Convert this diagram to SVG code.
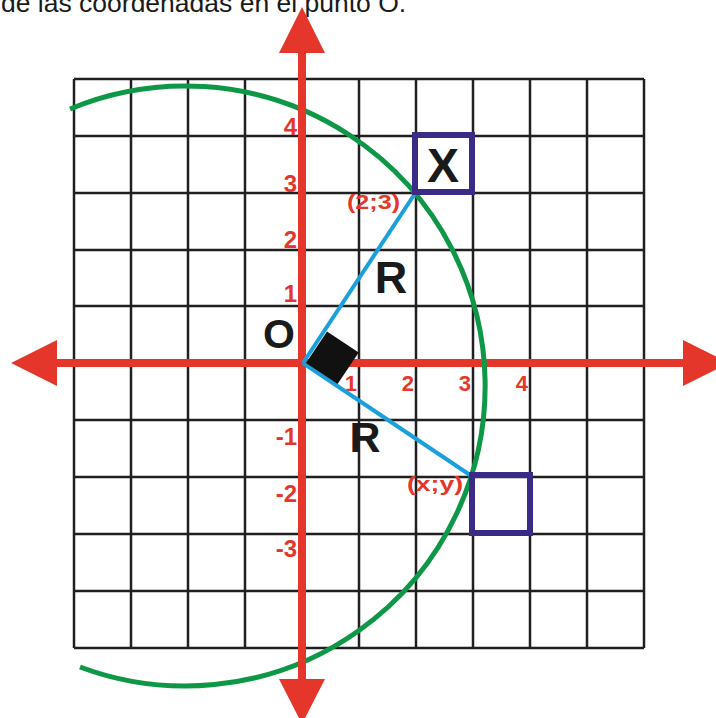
<svg xmlns="http://www.w3.org/2000/svg" width="716" height="718" viewBox="0 0 716 718">
<style>
.grid{stroke:#231f20;stroke-width:2.5;fill:none}
.axis{stroke:#e5362c;stroke-width:8;fill:none}
.head{fill:#e5362c}
.arc{stroke:#0f9748;stroke-width:5;fill:none}
.rad{stroke:#1ba0db;stroke-width:4;fill:none}
.box{stroke:#3b2a86;stroke-width:6;fill:none}
.t{font-family:"Liberation Sans",Arial,sans-serif;font-weight:bold}
.num{fill:#e5362c;font-size:24px;text-anchor:end}
.xn{fill:#e5362c;font-size:22px;text-anchor:end}
.big{fill:#1a1a1a}
</style>
<rect width="716" height="718" fill="#fff"/>
<text x="1" y="12" font-family="Liberation Sans, Arial, sans-serif" font-size="26.5" fill="#1a1a1a">de las coordenadas en el punto O.</text>
<g id="grid" class="grid">
<path d="M74,79V648M131,79V648M188,79V648M245,79V648M359,79V648M416,79V648M473,79V648M530,79V648M587,79V648M644,79V648"/>
<path d="M74,79H644M74,136H644M74,193H644M74,250H644M74,306H644M74,420H644M74,477H644M74,534H644M74,591H644M74,648H644"/>
</g>
<g id="x-axis">
<line class="axis" x1="50" y1="363" x2="690" y2="363"/>
<polygon class="head" points="11,363 57,340 57,386"/>
<polygon class="head" points="683,340 729,363 683,386"/>
</g>
<g id="circle">
<path class="arc" d="M70,109 A300,300 0 1 1 80,667"/>
</g>
<g id="y-axis">
<line class="axis" x1="302" y1="45" x2="302" y2="685"/>
<polygon class="head" points="302,7 325,53 279,53"/>
<polygon class="head" points="279,679 325,679 302,724"/>
</g>
<g id="y-labels" class="t num">
<text x="297" y="135">4</text>
<text x="297" y="192">3</text>
<text x="297" y="248">2</text>
<text x="297" y="302">1</text>
<text x="297" y="445">-1</text>
<text x="297" y="502">-2</text>
<text x="297" y="557">-3</text>
</g>
<g id="x-labels" class="t xn">
<text x="357" y="391">1</text>
<text x="414" y="391">2</text>
<text x="471" y="391">3</text>
<text x="528" y="391">4</text>
</g>
<g id="connectors">
<line class="rad" x1="303" y1="363" x2="416" y2="192"/>
<line class="rad" x1="303" y1="363" x2="473" y2="477"/>
</g>
<g id="right-angle">
<polygon points="306,363 327,331.4 358.7,352.4 337.6,384" fill="#111"/>
</g>
<g id="point-23">
<rect class="box" x="415" y="135" width="57" height="57"/>
<text class="t big" x="443" y="182" font-size="48" text-anchor="middle">X</text>
<text class="t" x="347" y="209" font-size="21" fill="#e5362c" textLength="53" lengthAdjust="spacingAndGlyphs">(2;3)</text>
</g>
<g id="point-xy">
<rect class="box" x="472" y="475" width="58" height="58"/>
<text class="t" x="407" y="491" font-size="21" fill="#e5362c" textLength="56" lengthAdjust="spacingAndGlyphs">(x;y)</text>
</g>
<g id="labels" class="t big">
<text x="391" y="293" font-size="45" text-anchor="middle">R</text>
<text x="365" y="452" font-size="43" text-anchor="middle">R</text>
<text x="279" y="348" font-size="41" text-anchor="middle">O</text>
</g>
</svg>
